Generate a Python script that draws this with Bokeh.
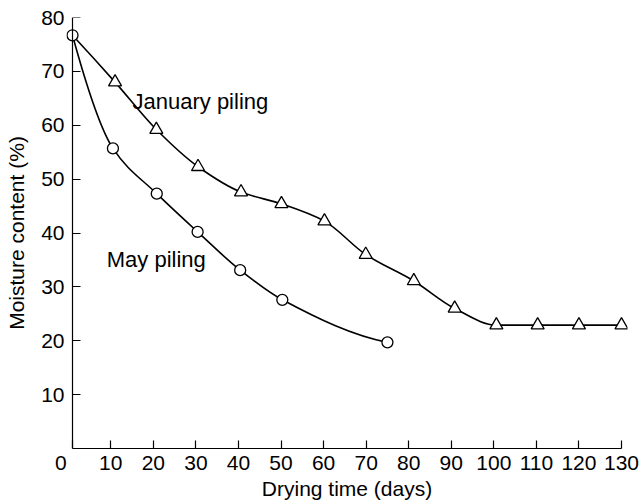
import numpy as np
from bokeh.plotting import figure
from bokeh.models import Range1d, FixedTicker, Label, LinearAxis
from bokeh.embed import file_html
from bokeh.resources import INLINE

# ---- data ----
jan_x = [1, 11, 20.7, 30.5, 40.6, 50.1, 60.2, 69.9, 81.2, 90.8, 100.6, 110.3, 120, 130]
jan_y = [76.7, 68.0, 59.2, 52.3, 47.6, 45.4, 42.2, 36.0, 31.1, 26.0, 22.9, 22.9, 22.9, 22.9]
may_x = [1, 10.5, 20.8, 30.4, 40.4, 50.3, 75.0]
may_y = [76.7, 55.7, 47.3, 40.2, 33.1, 27.6, 19.7]
x_ticks = [1, 10, 20, 30, 40, 50, 60, 70, 80, 90, 100, 110, 120, 130]
x_tick_labels = {1: "0\u00a0\u00a0\u00a0\u00a0"}
y_ticks = [10, 20, 30, 40, 50, 60, 70, 80]

FONT = "Liberation Sans"


def pchip_slopes(x, y):
    x = np.asarray(x, float); y = np.asarray(y, float)
    h = np.diff(x); d = np.diff(y) / h
    n = len(x); m = np.zeros(n)
    for i in range(1, n - 1):
        if d[i - 1] * d[i] > 0:
            w1 = 2 * h[i] + h[i - 1]; w2 = h[i] + 2 * h[i - 1]
            m[i] = (w1 + w2) / (w1 / d[i - 1] + w2 / d[i])
        else:
            m[i] = 0.0
    def end(h0, h1, d0, d1):
        s = ((2 * h0 + h1) * d0 - h0 * d1) / (h0 + h1)
        if np.sign(s) != np.sign(d0):
            s = 0.0
        elif np.sign(d0) != np.sign(d1) and abs(s) > abs(3 * d0):
            s = 3 * d0
        return s
    m[0] = end(h[0], h[1], d[0], d[1])
    m[-1] = end(h[-1], h[-2], d[-1], d[-2])
    return m


def bezier_source(x, y):
    x = np.asarray(x, float); y = np.asarray(y, float)
    m = pchip_slopes(x, y)
    h = np.diff(x)
    return dict(
        x0=x[:-1], y0=y[:-1], x1=x[1:], y1=y[1:],
        cx0=x[:-1] + h / 3, cy0=y[:-1] + m[:-1] * h / 3,
        cx1=x[1:] - h / 3, cy1=y[1:] - m[1:] * h / 3,
    )


K = 549 / 129                  # px per day
X_START = 1 - 6 / K            # frame starts a few px left of the y axis
X_END = 130 + 6 / K            # and ends a few px right of the last tick

p = figure(width=641, height=502, output_backend="svg", toolbar_location=None,
           x_range=Range1d(X_START, X_END), y_range=Range1d(0, 80),
           min_border_left=66, min_border_right=14, min_border_top=17, min_border_bottom=52)
p.background_fill_color = "white"
p.border_fill_color = "white"
p.outline_line_color = None
p.xgrid.visible = False
p.ygrid.visible = False


def style(ax):
    ax.axis_line_color = "black"
    ax.axis_line_width = 1.2
    ax.major_tick_line_color = "black"
    ax.major_tick_line_width = 1.2
    ax.major_tick_in = 8
    ax.major_tick_out = 0
    ax.minor_tick_in = 0
    ax.minor_tick_out = 0
    ax.minor_tick_line_color = None
    ax.major_label_text_font = FONT
    ax.major_label_text_font_size = "21px"
    ax.major_label_text_color = "black"
    ax.axis_label_text_font = FONT
    ax.axis_label_text_font_size = "21px"
    ax.axis_label_text_font_style = "normal"
    ax.axis_label_text_color = "black"


style(p.xaxis[0])
style(p.yaxis[0])

p.xaxis.ticker = FixedTicker(ticks=x_ticks)
p.xaxis.major_label_overrides = x_tick_labels
p.xaxis.bounds = (1, 130)
p.xaxis.axis_label = "Drying time (days)"
p.xaxis.major_label_standoff = 2
p.xaxis.axis_label_standoff = 0

# left axis: labels and title only (at frame edge)
p.yaxis.ticker = FixedTicker(ticks=y_ticks)
p.yaxis.axis_label = "Moisture content (%)"
p.yaxis.axis_line_color = None
p.yaxis.major_tick_line_color = None
p.yaxis.major_label_standoff = 2
p.yaxis.axis_label_standoff = 10

# inner axis: line and inward ticks at day 1
inner = LinearAxis(ticker=FixedTicker(ticks=y_ticks), fixed_location=1)
style(inner)
inner.major_label_text_color = None
p.add_layout(inner, "left")

# curves
jb = bezier_source(jan_x, jan_y)
mb = bezier_source(may_x, may_y)
p.bezier(x0="x0", y0="y0", x1="x1", y1="y1", cx0="cx0", cy0="cy0", cx1="cx1", cy1="cy1",
         source=jb, line_color="black", line_width=1.6)
p.bezier(x0="x0", y0="y0", x1="x1", y1="y1", cx0="cx0", cy0="cy0", cx1="cx1", cy1="cy1",
         source=mb, line_color="black", line_width=1.6)

# markers
p.scatter(jan_x[1:], jan_y[1:], marker="triangle", size=13, fill_color="white",
          line_color="black", line_width=1.3)
p.scatter(may_x, may_y, marker="circle", size=11, fill_color="white",
          line_color="black", line_width=1.3)

# annotations
p.add_layout(Label(x=15.1, y=64.4, text="January piling", text_font=FONT,
                   text_font_size="22px", text_color="black", text_baseline="alphabetic"))
p.add_layout(Label(x=9.05, y=35.1, text="May piling", text_font=FONT,
                   text_font_size="22px", text_color="black", text_baseline="alphabetic"))

open("out.html", "w").write(file_html(p, INLINE))
